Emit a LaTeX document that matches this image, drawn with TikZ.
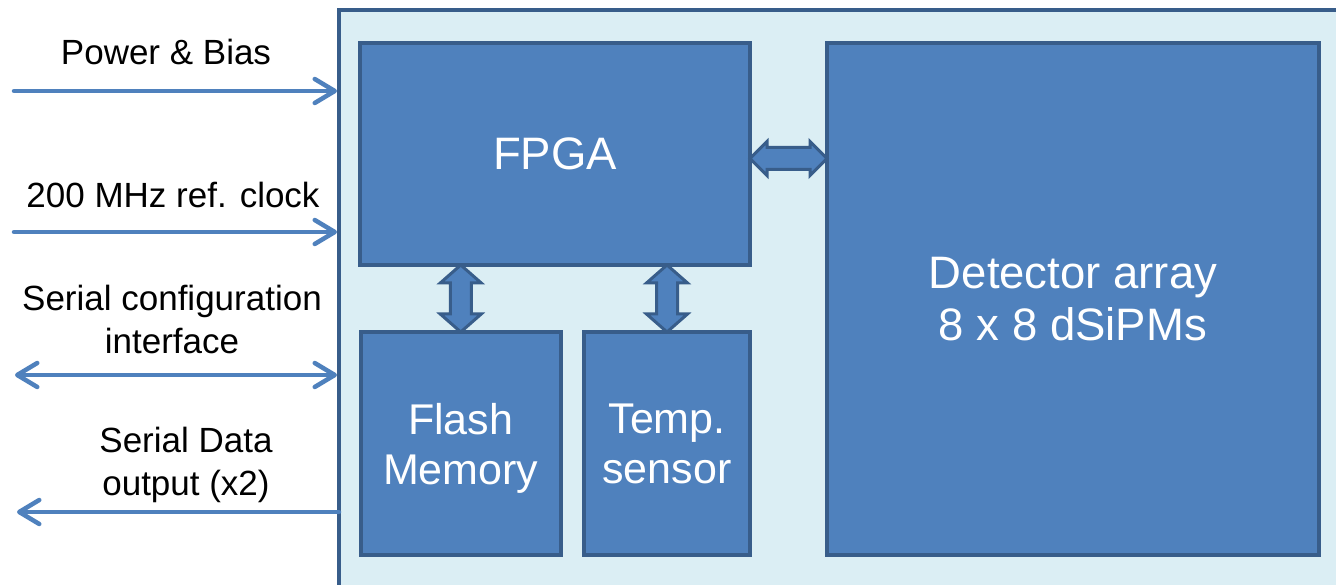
\documentclass[tikz,border=0pt]{standalone}
\usepackage{fontspec}
\setmainfont{Liberation Sans}
\usetikzlibrary{arrows.meta,calc}
\definecolor{boardfill}{HTML}{DBEEF4}
\definecolor{boxfill}{HTML}{4F81BD}
\definecolor{boxline}{HTML}{385D8A}
\definecolor{sigline}{HTML}{4F81BD}
\begin{document}
\begin{tikzpicture}[x=1pt,y=-1pt,
  boardbox/.style={draw=boxline, fill=boardfill, line width=3.5pt, rectangle, inner sep=0pt, outer sep=0pt},
  blk/.style={draw=boxline, fill=boxfill, line width=4pt, rectangle, inner sep=0pt, outer sep=0pt,
    text=white, font=\fontsize{45.5}{52}\selectfont, align=center},
  smallblk/.style={blk, font=\fontsize{43}{50}\selectfont, text depth=0pt},
  sig/.style={draw=sigline, line width=4.5pt, line cap=round},
  tipend/.style={-{Straight Barb[length=20pt,width=24pt,round]}, shorten >=2pt},
  tipboth/.style={{Straight Barb[length=20pt,width=24pt,round]}-{Straight Barb[length=20pt,width=24pt,round]}, shorten >=2pt},
  lbl/.style={font=\fontsize{35}{43}\selectfont, align=center, anchor=base, inner sep=0pt},
  barrow/.style={draw=boxline, fill=boxfill, line width=3pt, line join=miter}
]
\useasboundingbox (0,0) rectangle (1336,585);
\clip (0,0) rectangle (1336,585);
\fill[white] (0,0) rectangle (1336,585);

% board
\node[boardbox, anchor=north west, minimum width=1020pt, minimum height=600pt] (board) at (339,10) {};

% blocks
\node[blk, minimum width=390pt, minimum height=222pt] (fpga) at (555,154) {FPGA};
\node[blk, minimum width=492pt, minimum height=512pt] (det) at (1073,299) {Detector array\\8 x 8 dSiPMs};
\node[smallblk, minimum width=200.5pt, minimum height=223pt] (flash) at (460.75,443.5) {Flash\\Memory};
\node[smallblk, minimum width=166pt, minimum height=223pt] (temp) at (667,443.5) {Temp.\\sensor};

% block arrows
\coordinate (hl) at ([yshift=-4.5pt]fpga.east);
\coordinate (hr) at (hl -| det.west);
\draw[barrow] (hl) -- ++(17pt,17pt) -- ++(0pt,-6pt) -- ($(hr)+(-17pt,11pt)$) -- ++(0pt,6pt) -- (hr)
  -- ++(-17pt,-17pt) -- ++(0pt,6pt) -- ($(hl)+(17pt,-11pt)$) -- ++(0pt,-6pt) -- cycle;

\coordinate (ft) at (flash.north |- fpga.south);
\coordinate (fb) at (flash.north);
\draw[barrow] (ft) -- ++(20.5pt,-18pt) -- ++(-10pt,0pt) -- ($(fb)+(10.5pt,18pt)$) -- ++(10pt,0pt) -- (fb)
  -- ++(-20.5pt,18pt) -- ++(10pt,0pt) -- ($(ft)+(-10.5pt,-18pt)$) -- ++(-10pt,0pt) -- cycle;

\coordinate (tt) at (temp.north |- fpga.south);
\coordinate (tb) at (temp.north);
\draw[barrow] (tt) -- ++(20.5pt,-18pt) -- ++(-10pt,0pt) -- ($(tb)+(10.5pt,18pt)$) -- ++(10pt,0pt) -- (tb)
  -- ++(-20.5pt,18pt) -- ++(10pt,0pt) -- ($(tt)+(-10.5pt,-18pt)$) -- ++(-10pt,0pt) -- cycle;

% side signals
\coordinate (pPow) at (14,91);
\coordinate (pClk) at (14,232);
\coordinate (pCfg) at (15,375);
\coordinate (pDat) at (15,512);
\draw[sig, tipend] (pPow) -- (pPow -| board.west);
\draw[sig, tipend] (pClk) -- (pClk -| board.west);
\draw[sig, tipboth] (pCfg) -- (pCfg -| board.west);
\draw[sig, tipend] (pDat -| board.west) -- (pDat);

% labels (base = baseline of the last line)
\node[lbl] (lPow) at (166,65) {Power \& Bias};
\node[lbl] (lClk) at (173,208) {200 MHz ref. clock};
\node[lbl] (lCfg) at (172,353) {Serial configuration\\interface};
\node[lbl] (lDat) at (186,495) {Serial Data\\output (x2)};
\end{tikzpicture}
\end{document}
